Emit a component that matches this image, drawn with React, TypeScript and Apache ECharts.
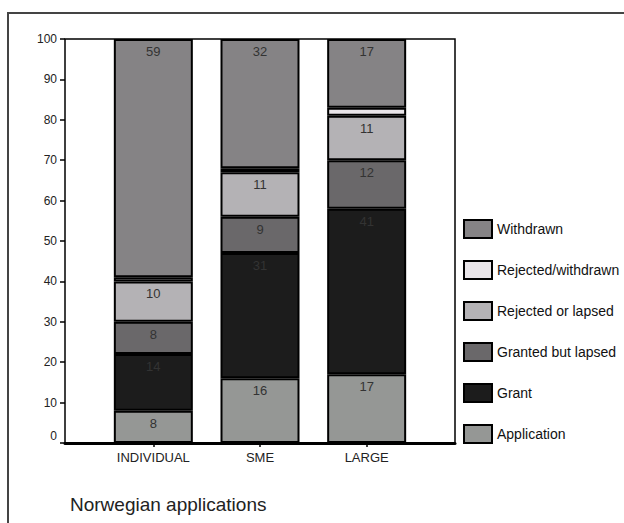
import React, { useEffect, useRef } from "react";
import * as echarts from "echarts";

const categories = ["INDIVIDUAL", "SME", "LARGE"];
const seriesNames = [
  "Application",
  "Grant",
  "Granted but lapsed",
  "Rejected or lapsed",
  "Rejected/withdrawn",
  "Withdrawn",
];
const application = [8, 16, 17];
const grant = [14, 31, 41];
const grantedButLapsed = [8, 9, 12];
const rejectedOrLapsed = [10, 11, 11];
const rejectedWithdrawn = [1, 1, 2];
const withdrawn = [59, 32, 17];
const yTicks = { min: 0, max: 100, interval: 10 };
const title = "Norwegian applications";

const seriesValues = [
  application,
  grant,
  grantedButLapsed,
  rejectedOrLapsed,
  rejectedWithdrawn,
  withdrawn,
];
const seriesColors = ["#959795", "#1c1c1c", "#6a686a", "#b4b2b5", "#e9e5e9", "#858385"];
const showLabel = [true, true, true, true, false, true];

const FONT = "'Liberation Sans', Arial, sans-serif";

export default function App() {
  const ref = useRef<HTMLDivElement>(null);
  useEffect(() => {
    document.body.style.margin = "0";
    if (!ref.current) return;
    const chart = echarts.init(ref.current, undefined, { renderer: "svg" });
    chart.setOption({
      animation: false,
      backgroundColor: "#ffffff",
      textStyle: { fontFamily: FONT },
      title: {
        text: title,
        left: 65,
        top: 490,
        textStyle: { fontFamily: FONT, fontSize: 19, fontWeight: "normal", color: "#222" },
      },
      graphic: [
        {
          type: "rect",
          shape: { x: 8, y: 13, width: 700, height: 600 },
          style: { fill: "none", stroke: "#444", lineWidth: 2 },
          silent: true,
        },
      ],
      legend: {
        orient: "vertical",
        left: 463,
        top: 219,
        padding: 0,
        itemWidth: 28,
        itemHeight: 18,
        itemGap: 21,
        icon: "rect",
        data: [...seriesNames].reverse(),
        itemStyle: { borderColor: "#000", borderWidth: 2 },
        textStyle: { fontFamily: FONT, fontSize: 14, color: "#111" },
        selectedMode: false,
      },
      grid: [
        {
          left: 65,
          top: 39,
          width: 390,
          height: 404,
          show: true,
          borderColor: "#000",
          borderWidth: 1.5,
          backgroundColor: "transparent",
        },
        { left: 100, top: 39, width: 320, height: 404 },
      ],
      xAxis: [
        {
          gridIndex: 0,
          type: "value",
          position: "top",
          min: 0,
          max: 1,
          axisLine: { show: true, lineStyle: { color: "#000", width: 3 } },
          axisTick: { show: false },
          axisLabel: { show: false },
          splitLine: { show: false },
        },
        {
          gridIndex: 1,
          type: "category",
          data: categories,
          axisLine: { show: false },
          axisTick: { show: true, alignWithLabel: true, length: 4, lineStyle: { color: "#000", width: 1.5 } },
          axisLabel: { fontFamily: FONT, fontSize: 13, color: "#222", margin: 8 },
        },
      ],
      yAxis: [
        {
          gridIndex: 0,
          type: "value",
          min: yTicks.min,
          max: yTicks.max,
          interval: yTicks.interval,
          axisLine: { show: false },
          axisTick: { show: true, length: 5, lineStyle: { color: "#000", width: 1.5 } },
          splitLine: { show: false },
          axisLabel: {
            fontFamily: FONT,
            fontSize: 12,
            color: "#222",
            margin: 8,
            formatter: (v: number) => (v === 0 ? "{z|0}" : String(v)),
            rich: { z: { fontFamily: FONT, fontSize: 12, color: "#222", padding: [0, 0, 15, 0] } },
          },
        },
        {
          gridIndex: 1,
          type: "value",
          min: yTicks.min,
          max: yTicks.max,
          show: false,
        },
      ],
      series: seriesNames.map((name, i) => ({
        name,
        type: "bar",
        stack: "total",
        xAxisIndex: 1,
        yAxisIndex: 1,
        barWidth: 79,
        data: seriesValues[i],
        itemStyle: { color: seriesColors[i], borderColor: "#000", borderWidth: 2 },
        label: {
          show: showLabel[i],
          position: "insideTop",
          distance: 6,
          fontFamily: FONT,
          fontSize: 13,
          color: "#333",
        },
      })),
    });
    return () => chart.dispose();
  }, []);
  return (
    <div
      ref={ref}
      style={{ position: "absolute", left: 0, top: 0, width: 624, height: 523 }}
    />
  );
}
